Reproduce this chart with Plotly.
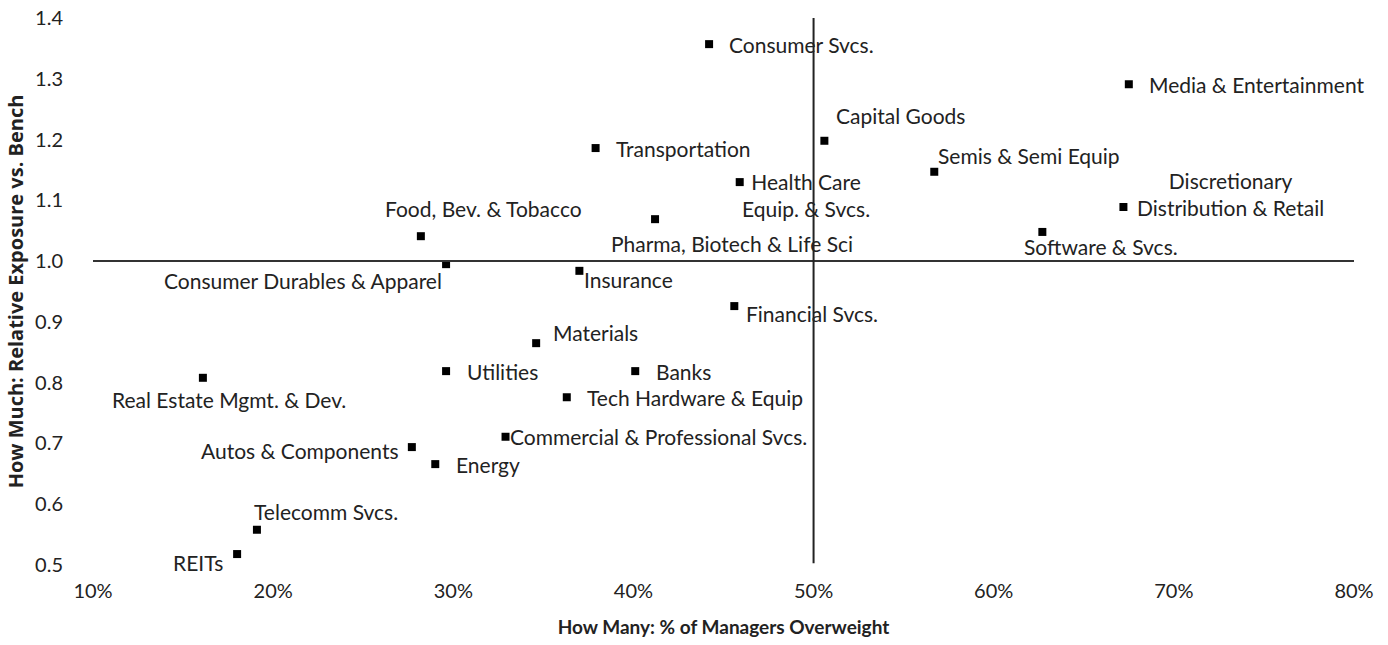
import plotly.graph_objects as go

# Sector positioning: breadth (% of managers overweight) vs depth (relative exposure)
sectors = [
    "Consumer Svcs.", "Media & Entertainment", "Capital Goods", "Transportation",
    "Semis & Semi Equip", "Health Care<br>Equip. & Svcs.", "Food, Bev. & Tobacco",
    "Pharma, Biotech & Life Sci", "Discretionary<br>Distribution & Retail",
    "Software & Svcs.", "Consumer Durables & Apparel", "Insurance", "Financial Svcs.",
    "Materials", "Utilities", "Banks", "Tech Hardware & Equip",
    "Commercial & Professional Svcs.", "Autos & Components", "Energy",
    "Real Estate Mgmt. & Dev.", "Telecomm Svcs.", "REITs",
]
pct_overweight = [
    44.2, 67.5, 50.6, 37.9, 56.7, 45.9, 28.2, 41.2, 67.2, 62.7, 29.6, 37.0,
    45.6, 34.6, 29.6, 40.1, 36.3, 32.9, 27.7, 29.0, 16.1, 19.1, 18.0,
]
rel_exposure = [
    1.357, 1.291, 1.198, 1.186, 1.147, 1.130, 1.041, 1.069, 1.089, 1.048, 0.995, 0.984,
    0.926, 0.865, 0.819, 0.819, 0.776, 0.711, 0.694, 0.666, 0.808, 0.558, 0.518,
]

benchmark_exposure = 1.0
neutral_pct = 50

# label placement (pixels from marker)
label_anchor = [
    "left", "left", "left", "left", "left", "center", "center", "center", "center",
    "center", "right", "left", "left", "left", "left", "left", "left", "left",
    "right", "left", "center", "left", "right",
]
label_dx = [18, 18, 10, 18, 2, 66, 63, 77, 107, 59, -2, 3, 10, 15, 19, 19, 18, 2, -11, 19, 26, -5, -12]
label_dy = [0, 0, 25, 0, 16, -13, 28, -24, 13, -15, -16, -9, -7, 11, 0, 0, 0, 0, -3, 0, -22, 18, -8]

text_color = "#222222"
label_font = "Lato, 'Noto Sans', sans-serif"

fig = go.Figure()

fig.add_trace(go.Scatter(
    x=pct_overweight,
    y=rel_exposure,
    mode="markers",
    marker=dict(symbol="square", size=8, color="black"),
    hoverinfo="skip",
    showlegend=False,
))

for name, x, y, anchor, dx, dy in zip(sectors, pct_overweight, rel_exposure, label_anchor, label_dx, label_dy):
    fig.add_annotation(
        x=x, y=y, text=name, showarrow=False,
        xanchor=anchor, yanchor="middle", align="center",
        xshift=dx, yshift=dy,
        font=dict(family=label_font, size=21, color=text_color),
    )

# reference lines
fig.add_shape(type="line", x0=10, x1=80, y0=benchmark_exposure, y1=benchmark_exposure,
              line=dict(color="#333333", width=2))
fig.add_shape(type="line", x0=neutral_pct, x1=neutral_pct, y0=0.503, y1=1.4,
              line=dict(color="#222222", width=2))

fig.update_layout(
    width=1388,
    height=645,
    margin=dict(l=93, r=34, t=18, b=80),
    plot_bgcolor="white",
    paper_bgcolor="white",
    font=dict(family=label_font, size=20, color=text_color),
    xaxis=dict(
        range=[10, 80], dtick=10, tick0=10, ticksuffix="%",
        showgrid=False, zeroline=False, showline=False, ticks="",
        automargin=False, ticklabelstandoff=12, ticklabeloverflow="allow",
        tickfont=dict(family=label_font, size=20, color=text_color),
        title=dict(text="<b>How Many: % of Managers Overweight</b>", standoff=19,
                   font=dict(family="Lato, sans-serif", size=19, color=text_color)),
    ),
    yaxis=dict(
        range=[0.5, 1.4], dtick=0.1, tick0=0.5, tickformat=".1f",
        showgrid=False, zeroline=False, showline=False, ticks="",
        automargin=False, ticklabelstandoff=29, ticklabeloverflow="allow",
        tickfont=dict(family=label_font, size=20, color=text_color),
        title=dict(text="<b>How Much: Relative Exposure vs. Bench</b>", standoff=6,
                   font=dict(family="'Open Sans', sans-serif", size=20, color=text_color)),
    ),
)

# drop the default page margin so the figure sits at the window's corner
fig.write_html(
    "out.html",
    config={"displayModeBar": False},
    post_script="document.body.style.margin = '0';",
)
